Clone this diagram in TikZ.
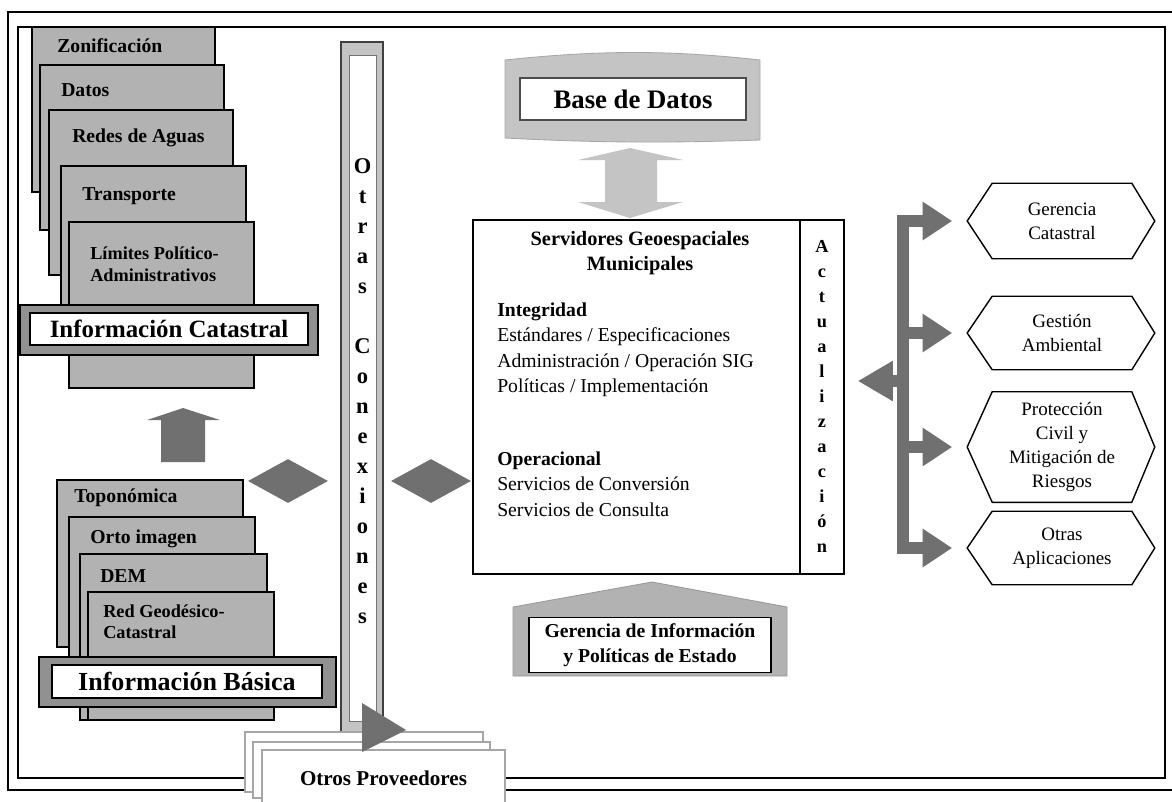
\documentclass[tikz,border=0pt]{standalone}
\usepackage{fontspec}
\setmainfont{Liberation Serif}
\usepackage{tikz}
\usetikzlibrary{shapes.geometric,arrows.meta}
\definecolor{boxgray}{RGB}{178,178,178}
\definecolor{bandgray}{RGB}{145,145,145}
\definecolor{arrowgray}{RGB}{112,112,112}
\definecolor{palegray}{RGB}{196,196,196}
\newcommand{\Sz}[2]{\fontsize{#1}{#2}\selectfont}

\tikzset{
    stack/.style={draw, line width=1.1pt, fill=boxgray},
    stacklbl/.style={anchor=west, inner sep=0pt, align=left, font=\Sz{14}{16.5}\bfseries},
    band/.style={draw, line width=1.1pt, fill=bandgray},
    bandlbl/.style={draw, line width=1.1pt, fill=white, inner sep=0pt, font=\Sz{18.5}{20}\bfseries},
    rhomb/.style={diamond, fill=arrowgray, minimum width=2cm, minimum height=1.1cm, inner sep=0pt},
    vletter/.style={anchor=base, inner sep=0pt, font=\Sz{16}{16}\bfseries},
    aletter/.style={anchor=base, inner sep=0pt, font=\Sz{13}{13}\bfseries},
    body/.style={anchor=north west, inner sep=0pt, align=left, font=\Sz{14}{17.8}\selectfont},
    hexlbl/.style={minimum width=3.475cm, inner sep=0pt, align=center, font=\Sz{13.5}{17}\selectfont},
    hexline/.style={draw, line width=1pt},
    branch/.style={draw=arrowgray, line width=8.5pt, -{Triangle[length=21pt,width=26pt]}},
    provbox/.style={draw=black!35, line width=0.8pt, fill=white},
}

\begin{document}
\begin{tikzpicture}[x=0.025cm, y=-0.025cm]
    \useasboundingbox[fill=white] (0,0) rectangle (1172,802);

    % marco
    \draw[line width=1.2pt] (8,12) rectangle (1185,790);
    \draw[line width=1.2pt] (18,27) rectangle (1165,778);

    % informacion catastral
    \draw[stack] (32,27) rectangle (215,192);
    \draw[stack] (40,65) rectangle (224,230);
    \draw[stack] (49,110) rectangle (233,275);
    \draw[stack] (61,166) rectangle (246,330);
    \draw[stack] (69,222) rectangle (254,388);
    \draw(57,46) node[stacklbl] (zon) {Zonificación};
    \draw(61,90) node[stacklbl] (dat) {Datos};
    \draw(72,138) node[stacklbl] (red) {Redes de Aguas};
    \draw(82,196) node[stacklbl] (tra) {Transporte};
    \draw(90,264) node[stacklbl, font=\Sz{13}{16}\bfseries] (lim) {Límites Político-\\Administrativos};
    \draw[band] (20,305) rectangle (318,355);
    \draw(169,329) node[bandlbl, minimum width=6.95cm, minimum height=0.8cm, font=\Sz{17.7}{20}\bfseries] (icat) {Información Catastral};

    \fill[arrowgray] (183,408) -- (220,420) -- (205,420) -- (205,462) -- (161,462) -- (161,420) -- (147,420) -- cycle;

    % informacion basica
    \draw[stack] (57,480) rectangle (243,647);
    \draw[stack] (69,517) rectangle (255,665);
    \draw[stack] (80,554) rectangle (267,720);
    \draw[stack] (88,592) rectangle (274,720);
    \draw(74,498) node[stacklbl] (top) {Toponómica};
    \draw(90,539) node[stacklbl] (ort) {Orto imagen};
    \draw(100,576) node[stacklbl] (dem) {DEM};
    \draw(103,622) node[stacklbl, font=\Sz{13}{15}\bfseries] (rgc) {Red Geodésico-\\Catastral};
    \draw[band] (39,657) rectangle (336,707);
    \draw(187,681.5) node[bandlbl, minimum width=6.75cm, minimum height=0.825cm] (ibas) {Información Básica};

    \draw(288,481) node[rhomb] (dl) {};
    \draw(431,481) node[rhomb] (dm) {};

    % otras conexiones
    \draw[draw=black!75, line width=1pt, fill=palegray] (341,42) rectangle (383,733);
    \draw[draw=black!55, line width=0.6pt, fill=white] (349,55) rectangle (376,721);
    \foreach \ch [count=\i] in {O,t,r,a,s,{},C,o,n,e,x,i,o,n,e,s}
        \draw(362.5,143+30*\i) node[vletter] (oc\i) {\ch};

    \draw[provbox] (245,732) rectangle (483,792);
    \draw[provbox] (253,742) rectangle (490,798);
    \draw(383.5,778) node[provbox, minimum width=6.075cm, minimum height=1.4cm, font=\Sz{15}{15}\bfseries] (prov) {Otros Proveedores};
    \fill[arrowgray] (362,703) -- (406,730) -- (362,752) -- cycle;

    % base de datos
    \fill[palegray, draw=black!35, line width=0.6pt] (505,60) .. controls (600,50) and (670,50) .. (760,60) -- (760,140) .. controls (670,143) and (600,143) .. (505,138) -- cycle;
    \draw(633,99) node[draw=black!70, line width=0.8pt, fill=white, minimum width=5.65cm, minimum height=1.05cm, font=\Sz{19}{19}\bfseries] (bdd) {Base de Datos};
    \fill[palegray] (630,148) -- (683,160) -- (657,160) -- (657,202) -- (683,202) -- (630,218) -- (578,202) -- (605,202) -- (605,160) -- (578,160) -- cycle;

    % servidores
    \draw(658.5,397) node[draw, line width=1pt, minimum width=9.275cm, minimum height=8.85cm] (srv) {};
    \draw[line width=1pt] (800,220) -- (800,574);
    \draw(640,253) node[align=center, inner sep=0pt, font=\Sz{14.5}{17.8}\bfseries] (srvt) {Servidores Geoespaciales\\Municipales};
    \draw(497,303) node[body] (integ) {\textbf{Integridad}\\Estándares / Especificaciones\\Administración / Operación SIG\\Políticas / Implementación};
    \draw(497,452) node[body] (oper) {\textbf{Operacional}\\Servicios de Conversión\\Servicios de Consulta};
    \foreach \ch [count=\i] in {A,c,t,u,a,l,i,z,a,c,i,ó,n}
        \draw(822,227+25*\i) node[aletter] (act\i) {\ch};

    % gerencia
    \fill[boxgray, draw=black!40, line width=0.6pt] (513,607) -- (652,582) -- (787,607) -- (787,676) -- (513,676) -- cycle;
    \draw(650,645) node[draw, line width=1.2pt, fill=white, minimum width=6.05cm, minimum height=1.375cm, align=center, inner sep=0pt, font=\Sz{14}{17.8}\bfseries] (ger) {Gerencia de Información\\y Políticas de Estado};

    % aplicaciones
    \draw(1062,221) node[hexlbl, minimum height=1.875cm] (gc) {Gerencia\\Catastral};
    \draw(1062,333) node[hexlbl, minimum height=1.825cm] (ga) {Gestión\\Ambiental};
    \draw(1062,447) node[hexlbl, minimum height=2.75cm] (pc) {Protección\\Civil y\\Mitigación de\\Riesgos};
    \draw(1062,548) node[hexlbl, minimum height=1.825cm] (oa) {Otras\\Aplicaciones};
    \foreach \h in {gc,ga,pc,oa}
        \draw[hexline] (\h.north west) -- (\h.north east) -- ([xshift=0.575cm]\h.east) -- (\h.south east) -- (\h.south west) -- ([xshift=-0.625cm]\h.west) -- cycle;

    \coordinate (bartop) at (903,215);
    \coordinate (barbot) at (903,554);
    \coordinate (barmid) at (903,381);
    \draw[arrowgray, line width=8.5pt] (bartop) -- (barbot);
    \foreach \h in {gc,ga,pc,oa}
        \draw[branch, shorten >=1cm] (\h.west -| bartop) -- (\h.west);
    \draw[branch, -{Triangle[length=25pt,width=27pt]}, shorten >=0.325cm] (barmid) -- (barmid -| srv.east);

\end{tikzpicture}
\end{document}
